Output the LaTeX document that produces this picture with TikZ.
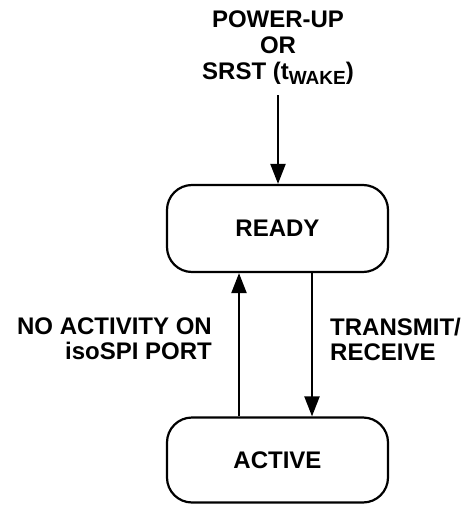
\documentclass[tikz,border=0pt]{standalone}
\usepackage{fontspec}
\setmainfont{Liberation Sans}
\usetikzlibrary{arrows.meta}
\begin{document}
\begin{tikzpicture}[x=1pt,y=-1pt,
  state/.style={draw, line width=2.2pt, rounded corners=25pt, minimum width=221pt, inner sep=0pt,
    font=\fontsize{24}{26}\selectfont\bfseries},
  lbl/.style={inner sep=0pt, font=\fontsize{24}{26}\selectfont\bfseries},
  conn/.style={line width=2.2pt, -{Triangle[length=20pt,width=15pt]}}]
\useasboundingbox (0,0) rectangle (466,506);
\node[lbl, align=center, anchor=north] (top) at (278,10.8)
  {POWER-UP\\OR\\SRST (t\raisebox{-5pt}{\fontsize{19}{19}\selectfont WAKE})};
\coordinate (start) at (278,95);
\node[state, minimum height=87pt] (ready) at (277.5,228.5) {READY};
\node[state, minimum height=85pt] (active) at (277.5,460) {ACTIVE};
\coordinate (upx) at (239,0);
\coordinate (downx) at (312,0);
\draw[conn] (start) -- (start |- ready.north);
\draw[conn] (active.north -| upx) -- (ready.south -| upx);
\draw[conn] (ready.south -| downx) -- (active.north -| downx);
\node[lbl, align=right, anchor=north east, font=\fontsize{24}{25}\selectfont\bfseries] (noact) at (212,317.8)
  {NO ACTIVITY ON\\isoSPI PORT};
\node[lbl, align=left, anchor=north west, font=\fontsize{24}{25}\selectfont\bfseries] (tx) at (330,317.8)
  {TRANSMIT/\\RECEIVE};
\end{tikzpicture}
\end{document}
